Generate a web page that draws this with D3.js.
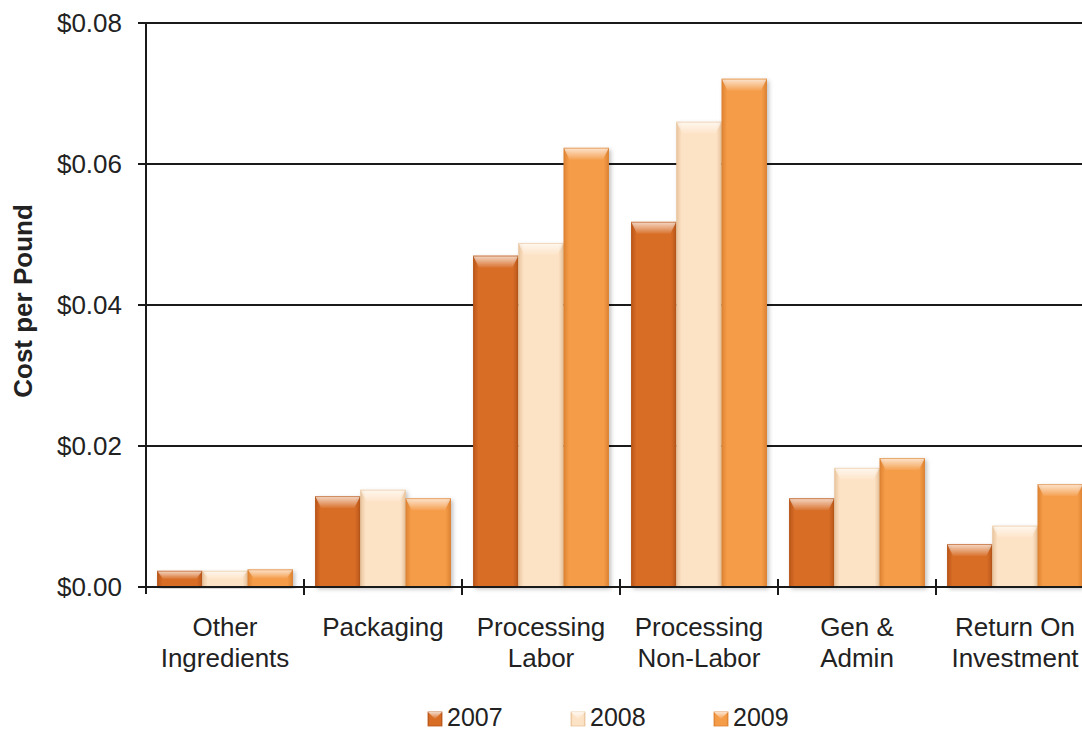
<!DOCTYPE html>
<html><head><meta charset="utf-8">
<script src="https://cdn.jsdelivr.net/npm/d3@7"></script>
<style>body{margin:0;background:#fff}svg{display:block}text{font-family:"Liberation Sans",Arial,sans-serif;fill:#222}</style>
</head><body><svg id="c" width="1082" height="732"></svg>
<script>
const categories = [["Other","Ingredients"],["Packaging"],["Processing","Labor"],["Processing","Non-Labor"],["Gen &","Admin"],["Return On","Investment"]];
const seriesNames = ["2007","2008","2009"];
const v2007 = [0.0023,0.0129,0.0470,0.0518,0.0126,0.0061];
const v2008 = [0.0023,0.0138,0.0488,0.0660,0.0169,0.0087];
const v2009 = [0.0025,0.0126,0.0623,0.0721,0.0183,0.0146];
const yTicks = [0,0.02,0.04,0.06,0.08];
const colors = {"2007":["#b8561a","#d86d26","#c85f1e"],"2008":["#e8c49c","#fde3c6","#f2cfa8"],"2009":["#dc8232","#f59c48","#e88c3a"]};

const svg = d3.select("#c");
const m = {l:146,t:23,b:587};
const catW = 158;
const x = d3.scaleBand().domain(d3.range(categories.length)).range([m.l, m.l+catW*categories.length]).paddingInner(0).paddingOuter(0);
const xs = d3.scaleBand().domain(seriesNames).range([0, x.bandwidth()]).paddingInner(0).paddingOuter(0.245);
const y = d3.scaleLinear().domain([0,0.08]).range([m.b, m.t]);
const data = seriesNames.map((s,i)=>({s, vals:[v2007,v2008,v2009][i]}));

const defs = svg.append("defs");
seriesNames.forEach(s=>{
  const g = defs.append("linearGradient").attr("id","g"+s).attr("x1",0).attr("x2",1).attr("y1",0).attr("y2",0);
  const c = colors[s];
  g.append("stop").attr("offset",0).attr("stop-color",c[0]);
  g.append("stop").attr("offset",0.12).attr("stop-color",c[1]);
  g.append("stop").attr("offset",0.88).attr("stop-color",c[1]);
  g.append("stop").attr("offset",1).attr("stop-color",c[0]);
  const t = defs.append("linearGradient").attr("id","t"+s).attr("x1",0).attr("x2",0).attr("y1",0).attr("y2",1);
  t.append("stop").attr("offset",0).attr("stop-color","#fff").attr("stop-opacity",0.75);
  t.append("stop").attr("offset",1).attr("stop-color","#fff").attr("stop-opacity",0.05);
});
const sh = defs.append("filter").attr("id","sh").attr("x","-20%").attr("y","-5%").attr("width","150%").attr("height","115%");
sh.append("feDropShadow").attr("dx",2).attr("dy",2).attr("stdDeviation",2).attr("flood-color","#000").attr("flood-opacity",0.25);

// gridlines
svg.append("g").selectAll("line").data(yTicks.filter(d=>d>0)).join("line")
  .attr("x1",m.l).attr("x2",1082).attr("y1",d=>y(d)).attr("y2",d=>y(d))
  .attr("stroke","#1a1a1a").attr("stroke-width",2);

// bars
const gBars = svg.append("g");
data.forEach(d=>{
  const g = gBars.append("g");
  d.vals.forEach((v,i)=>{
    const bx = x(i)+xs(d.s), bw = xs.bandwidth(), by = y(v), bh = y(0)-y(v);
    g.append("rect").attr("x",bx).attr("y",by).attr("width",bw).attr("height",bh)
      .attr("fill","url(#g"+d.s+")").attr("filter","url(#sh)");
    const cap = Math.min(12, bh*0.5), ins = Math.min(6, bw*0.15);
    g.append("path").attr("d",`M${bx},${by}L${bx+bw},${by}L${bx+bw-ins},${by+cap}L${bx+ins},${by+cap}Z`)
      .attr("fill","url(#t"+d.s+")");
    g.append("rect").attr("x",bx+0.5).attr("y",by+0.5).attr("width",bw-1).attr("height",bh-1)
      .attr("fill","none").attr("stroke",colors[d.s][0]).attr("stroke-opacity",0.6).attr("stroke-width",1);
  });
});

// axes
svg.append("line").attr("x1",m.l).attr("x2",1082).attr("y1",y(0)).attr("y2",y(0)).attr("stroke","#1a1a1a").attr("stroke-width",2);
svg.append("line").attr("x1",m.l).attr("x2",m.l).attr("y1",m.t).attr("y2",y(0)+7).attr("stroke","#1a1a1a").attr("stroke-width",2);
svg.append("g").selectAll("line").data(yTicks).join("line")
  .attr("x1",m.l-8).attr("x2",m.l+8).attr("y1",d=>y(d)).attr("y2",d=>y(d)).attr("stroke","#1a1a1a").attr("stroke-width",2);
svg.append("g").selectAll("line").data(d3.range(1,categories.length)).join("line")
  .attr("x1",d=>x(d)).attr("x2",d=>x(d)).attr("y1",y(0)-8).attr("y2",y(0)+8).attr("stroke","#1a1a1a").attr("stroke-width",2);

svg.append("g").selectAll("text").data(yTicks).join("text")
  .attr("x",m.l-24).attr("y",d=>y(d)).attr("dy","0.35em").attr("text-anchor","end")
  .style("font-size","26px").text(d=>"$"+d.toFixed(2));

const xl = svg.append("g").selectAll("text").data(categories).join("text")
  .attr("text-anchor","middle").style("font-size","26px");
xl.each(function(lines,i){
  const t = d3.select(this);
  lines.forEach((ln,j)=>t.append("tspan").attr("x",x(i)+x.bandwidth()/2).attr("y",636+j*31).text(ln));
});

svg.append("text").attr("transform","translate(32,301) rotate(-90)").attr("text-anchor","middle")
  .style("font-size","26px").style("font-weight","bold").text("Cost per Pound");

// legend
const legX = [428,571,714];
const lg = svg.append("g").selectAll("g").data(seriesNames).join("g").attr("transform",(d,i)=>`translate(${legX[i]},719)`);
lg.append("rect").attr("x",0).attr("y",-7).attr("width",14).attr("height",14).attr("fill",d=>"url(#g"+d+")").attr("stroke",d=>colors[d][0]).attr("stroke-width",0.8);
lg.append("path").attr("d","M0,-7L14,-7L7,0Z").attr("fill",d=>"url(#t"+d+")");
lg.append("text").attr("x",19).attr("y",-2).attr("dy","0.36em").style("font-size","25px").text(d=>d);
</script></body></html>
